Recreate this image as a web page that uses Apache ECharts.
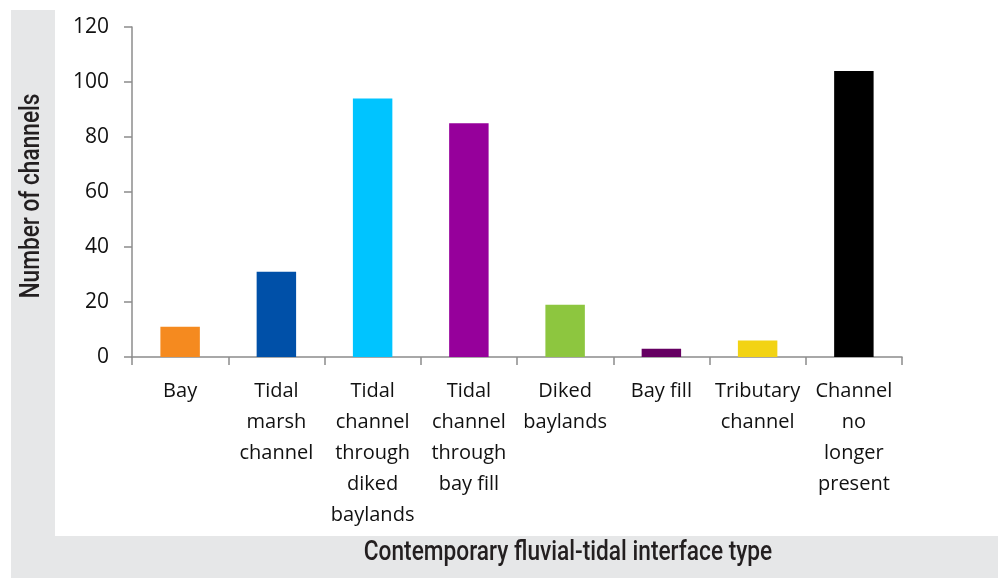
<!DOCTYPE html>
<html>
<head>
<meta charset="utf-8">
<script src="https://cdn.jsdelivr.net/npm/echarts@6/dist/echarts.min.js"></script>
<style>
html,body{margin:0;padding:0;background:#fff;}
#chart{width:1003px;height:578px;}
</style>
</head>
<body>
<div id="chart"></div>
<script>
const categories = ["Bay", "Tidal\nmarsh\nchannel", "Tidal\nchannel\nthrough\ndiked\nbaylands", "Tidal\nchannel\nthrough\nbay fill", "Diked\nbaylands", "Bay fill", "Tributary\nchannel", "Channel\nno\nlonger\npresent"];
const values = [11, 31, 94, 85, 19, 3, 6, 104];
const barColors = ["#F58A1F", "#0050A8", "#00C4FF", "#96009B", "#8DC63F", "#650062", "#F2D314", "#000000"];
const yTicks = [0, 20, 40, 60, 80, 100, 120];
const yTitle = "Number of channels";
const xTitle = "Contemporary fluvial-tidal interface type";

const chart = echarts.init(document.getElementById('chart'), null, {renderer: 'canvas'});
const titleFont = '500 27px Roboto, sans-serif';
const labelFont = '"Open Sans", "Noto Sans", sans-serif';
chart.setOption({
  animation: false,
  backgroundColor: '#ffffff',
  graphic: [
    {type: 'rect', z: -10, shape: {x: 11, y: 10, width: 987, height: 568}, style: {fill: '#E6E7E8'}},
    {type: 'rect', z: -9, shape: {x: 55, y: 0, width: 948, height: 536}, style: {fill: '#ffffff'}},
    {type: 'text', z: 10, x: 32, y: 196, rotation: Math.PI / 2, scaleX: 0.84,
     style: {text: yTitle, font: titleFont, fill: '#231F20', textAlign: 'center', textVerticalAlign: 'middle'}},
    {type: 'text', z: 10, x: 568, y: 553, scaleX: 0.84,
     style: {text: xTitle, font: titleFont, fill: '#231F20', textAlign: 'center', textVerticalAlign: 'middle'}}
  ],
  grid: {left: 132, right: 101, top: 27, bottom: 221, containLabel: false},
  xAxis: {
    type: 'category',
    data: categories,
    axisLine: {show: true, lineStyle: {color: '#8C8C8C', width: 1.5}},
    axisTick: {show: true, length: 8, lineStyle: {color: '#8C8C8C', width: 1.5}},
    axisLabel: {interval: 0, margin: 19, color: '#111', fontSize: 20, fontFamily: labelFont, lineHeight: 31, align: 'center'}
  },
  yAxis: {
    type: 'value',
    min: yTicks[0],
    max: yTicks[yTicks.length - 1],
    interval: 20,
    splitLine: {show: false},
    axisLine: {show: true, lineStyle: {color: '#8C8C8C', width: 1.5}},
    axisTick: {show: true, length: 8, lineStyle: {color: '#8C8C8C', width: 1.5}},
    axisLabel: {margin: 23, color: '#111', fontSize: 21, fontFamily: labelFont}
  },
  series: [{
    type: 'bar',
    barWidth: '41%',
    data: values.map((v, i) => ({value: v, itemStyle: {color: barColors[i]}}))
  }]
});
</script>
</body>
</html>
